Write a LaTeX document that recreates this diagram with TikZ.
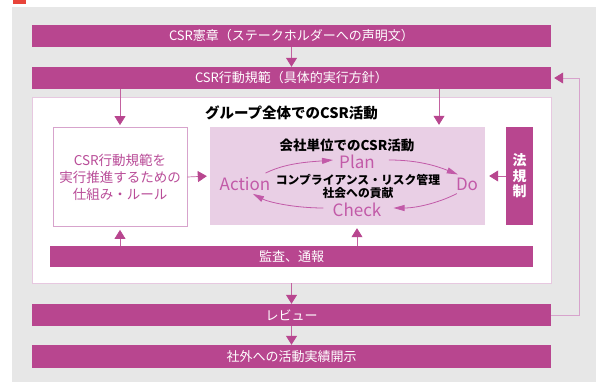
\documentclass[tikz,border=0pt]{standalone}
\usepackage{fontspec}
\setmainfont{Noto Sans CJK JP}
\usetikzlibrary{arrows.meta,calc,positioning}
\definecolor{BarMagenta}{HTML}{B8468F}
\definecolor{UnitPink}{HTML}{E9CFE5}
\definecolor{FrameRose}{HTML}{D7A3CC}
\definecolor{RuleRose}{HTML}{B94C98}
\definecolor{CycleRose}{HTML}{C25AA8}
\definecolor{PanelGray}{HTML}{E7E7E7}
\definecolor{MarkRed}{HTML}{E8443A}

\begin{document}
\begin{tikzpicture}[x=1pt,y=-1pt,
    bar/.style={fill=BarMagenta,text=white,minimum width=519pt,minimum height=22pt,
      inner sep=0pt,font=\fontsize{13}{15}\selectfont},
    flow/.style={draw=BarMagenta!85,line width=.7pt,
      -{Triangle[width=11pt,length=9pt,color=BarMagenta]}},
    cyclearrow/.style={draw=CycleRose,line width=.8pt,-{Triangle[width=6pt,length=11pt]}},
    pdca/.style={text=CycleRose,inner sep=0pt,font=\fontsize{17}{19}\selectfont}]
    \useasboundingbox (0,0) rectangle (596,383);
    \fill[PanelGray] (12,7) rectangle (596,382);
    \fill[MarkRed] (13,0) rectangle (26,4);

    \node[bar] (charter) at (291.5,36) {CSR憲章（ステークホルダーへの声明文）};
    \node[bar] (conduct) at (291.5,78) {CSR行動規範（具体的実行方針）};
    \node[draw=FrameRose!60,fill=white,minimum width=519pt,minimum height=186pt,inner sep=0pt]
      (group) at (291.5,190) {};
    \node[font=\bfseries\fontsize{14.5}{16}\selectfont] (grouptitle) at (291.5,113)
      {グループ全体でのCSR活動};
    \node[draw=FrameRose,line width=.8pt,fill=white,minimum width=134pt,minimum height=99pt,
      text=RuleRose,align=center,font=\fontsize{13.5}{17}\selectfont] (rules) at (120,177)
      {CSR行動規範を\\実行推進するための\\仕組み・ルール};
    \node[fill=UnitPink,minimum width=275pt,minimum height=98pt,inner sep=0pt] (unit) at (347.5,176) {};
    \node[bar,minimum width=27pt,minimum height=98pt,align=center,
      font=\bfseries\fontsize{14}{15.5}\selectfont] (law) at (519.5,176) {法\\規\\制};
    \node[bar,minimum width=483pt,minimum height=21pt] (audit) at (291.5,256.5) {監査、通報};
    \node[bar] (review) at (291.5,315) {レビュー};
    \node[bar,minimum height=23pt] (disclose) at (291.5,356.5) {社外への活動実績開示};

    % company level cycle
    \node[font=\bfseries\fontsize{13.5}{15}\selectfont] (unittitle) at (347,145) {会社単位でのCSR活動};
    \node[pdca] (plan) at (357,162) {Plan};
    \node[pdca] (action) at (245,184) {Action};
    \node[pdca] (do) at (467,184) {Do};
    \node[pdca] (check) at (357,210) {Check};
    \node[align=center,font=\bfseries\fontsize{11.8}{13.5}\selectfont] (theme) at (358,186.5)
      {コンプライアンス・リスク管理\\社会への貢献};
    \draw[cyclearrow] ([shift={(-5,-4)}]action.north east) .. controls +(20,-10) and +(-25,2) .. ([shift={(-6,-2)}]plan.west);
    \draw[cyclearrow] ([shift={(14,-2)}]plan.east) .. controls +(30,0) and +(-20,-8) .. ([shift={(2,-3)}]do.north west);
    \draw[cyclearrow] ([shift={(1,3)}]do.south west) .. controls +(-15,8) and +(25,0) .. ([shift={(12,-2)}]check.east);
    \draw[cyclearrow] ([shift={(-9,-2)}]check.west) .. controls +(-30,0) and +(15,8) .. ([shift={(8,3)}]action.south);

    \coordinate (unitin) at ([xshift=91.5pt]unit.north);
    \coordinate (unitup) at ([xshift=9.5pt]unit.south);
    \draw[flow] (charter) -- (conduct);
    \draw[flow,shorten >=2pt] (conduct.south -| rules.north) -- (rules.north);
    \draw[flow,shorten >=2pt] (conduct.south -| unitin) -- (unitin);
    \draw[flow,shorten >=3pt] (rules.east) -- (unit.west);
    \draw[flow,shorten >=4pt] (law.west) -- (unit.east);
    \draw[flow,shorten >=3pt] (audit.north -| rules.south) -- (rules.south);
    \draw[flow,shorten >=3pt] (audit.north -| unitup) -- (unitup);
    \draw[flow] (group) -- (review);
    \draw[flow] (review) -- (disclose);
    \draw[flow,draw=FrameRose,shorten >=3pt] (review.east) -- ++(28,0) |- (conduct.east);
\end{tikzpicture}
\end{document}
